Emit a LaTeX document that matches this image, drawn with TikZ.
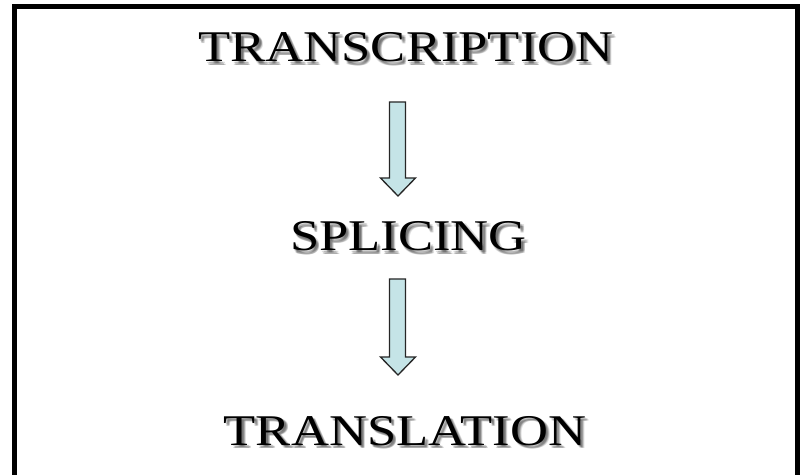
\documentclass[tikz,border=0pt]{standalone}
\usepackage{graphicx}
\usepackage{fontspec}
\setmainfont{Liberation Serif}
\definecolor{arrowfill}{RGB}{197,228,231}
\newcommand{\wideword}[1]{\scalebox{1.2}[1]{#1}}
\begin{document}
\begin{tikzpicture}[x=1bp,y=-1bp,
  lbl/.style={anchor=base, inner sep=0pt, font=\fontsize{44}{44}\selectfont},
  shadowlbl/.style={lbl, text=black, opacity=0.12},
  blockarrow/.style={draw=black!85, line width=1.3bp, fill=arrowfill, line join=miter}]
\useasboundingbox (0,0) rectangle (804,475);
\begin{scope}
  \clip (0,0) rectangle (804,475);
  \draw[line width=5bp] (14,495) -- (14,6.5) -- (797.5,6.5) -- (797.5,495);
\end{scope}
% soft shadows
\foreach \dx/\dy in {1.5/1.5, 2.5/2.5, 2/3.2, 3.2/2, 3/3.5, 3.8/3.8} {
  \node[shadowlbl] at (406+\dx,62+\dy) {\wideword{TRANSCRIPTION}};
  \node[shadowlbl] at (408.5+\dx,251+\dy) {\wideword{SPLICING}};
  \node[shadowlbl] at (405+\dx,445+\dy) {\wideword{TRANSLATION}};
}
% labels
\node[lbl] (t1) at (406,62) {\wideword{TRANSCRIPTION}};
\node[lbl] (t2) at (408.5,251) {\wideword{SPLICING}};
\node[lbl] (t3) at (405,445) {\wideword{TRANSLATION}};
% block arrows
\foreach \top/\base/\tip/\nm in {102/178/196/a, 279/357/375/b} {
  \coordinate (\nm tip) at (398,\tip);
  \draw[blockarrow] (389.5,\top) -- (405.5,\top) -- (405.5,\base) -- (415.5,\base)
    -- (\nm tip) -- (380.5,\base) -- (389.5,\base) -- cycle;
}
\end{tikzpicture}
\end{document}
